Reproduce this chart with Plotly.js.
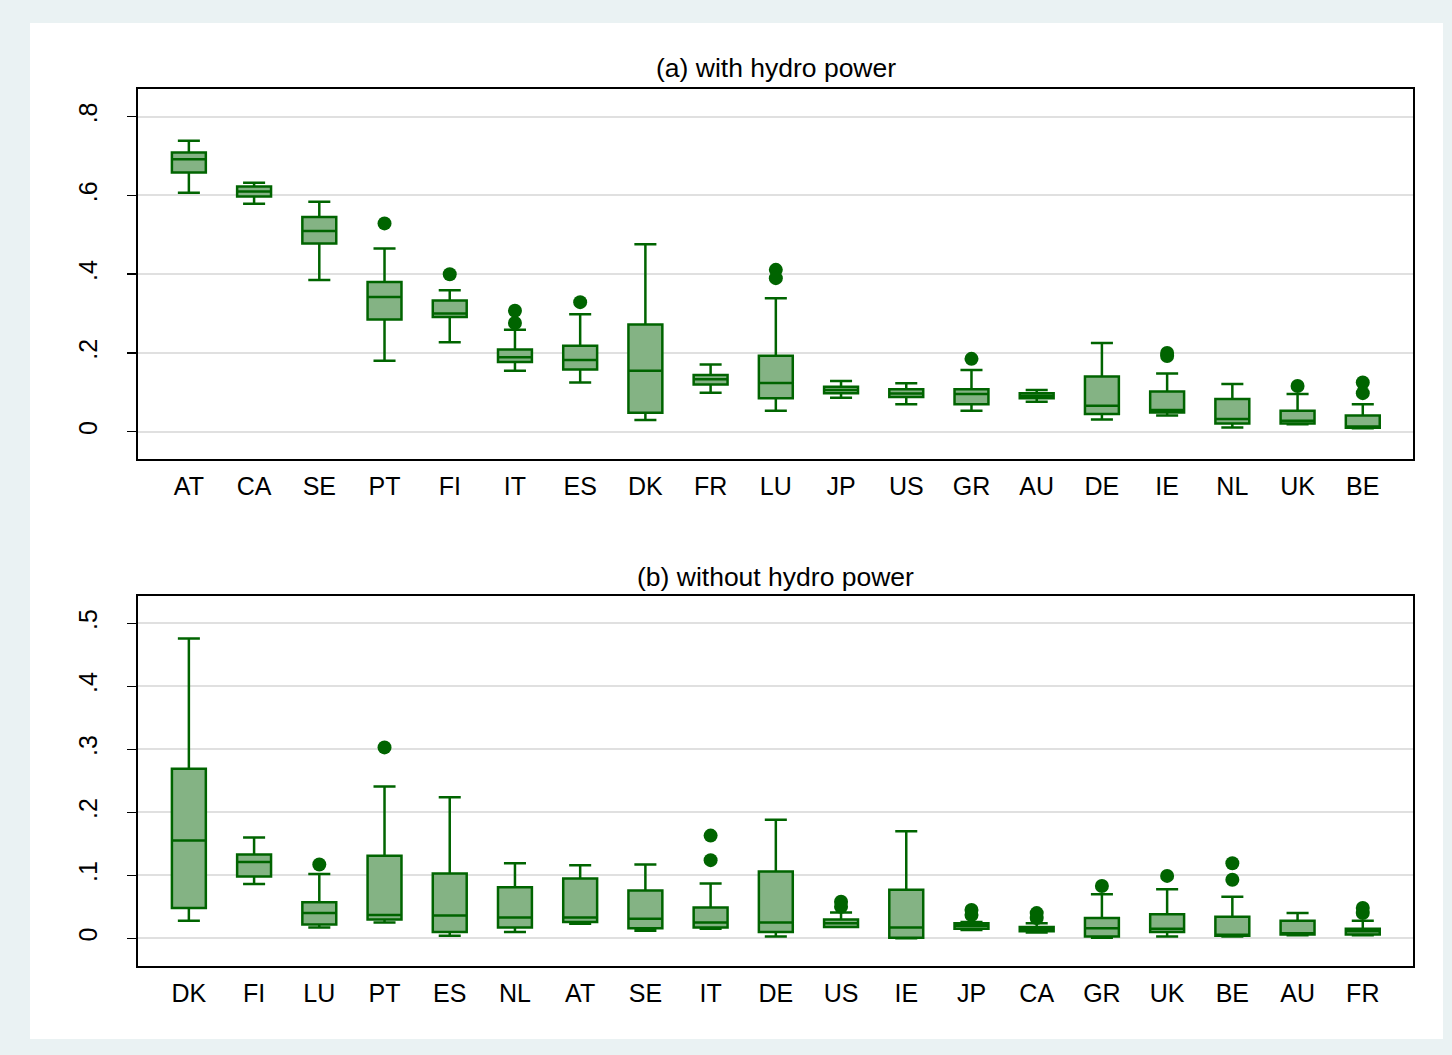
<!DOCTYPE html>
<html>
<head>
<meta charset="utf-8">
<script src="https://cdn.plot.ly/plotly-3.0.1.min.js"></script>
<style>
  html, body { margin: 0; padding: 0; background: #eaf2f3; }
  #white { position: absolute; left: 30px; top: 23px; width: 1413px; height: 1016px; background: #ffffff; }
  #chart { position: absolute; left: 0; top: 0; width: 1452px; height: 1055px; }
</style>
</head>
<body>
<div id="white"></div>
<div id="chart"></div>
<script>
// Panel (a): with hydro power
const catsA = ["AT","CA","SE","PT","FI","IT","ES","DK","FR","LU","JP","US","GR","AU","DE","IE","NL","UK","BE"];
const upperA = [0.739,0.632,0.584,0.465,0.359,0.259,0.298,0.476,0.171,0.339,0.129,0.123,0.157,0.106,0.225,0.148,0.121,0.096,0.070];
const q3A    = [0.709,0.623,0.545,0.380,0.333,0.209,0.218,0.272,0.144,0.193,0.114,0.108,0.108,0.098,0.140,0.102,0.083,0.053,0.041];
const medA   = [0.692,0.610,0.510,0.342,0.300,0.189,0.182,0.155,0.133,0.124,0.106,0.097,0.096,0.091,0.066,0.055,0.032,0.028,0.013];
const q1A    = [0.658,0.597,0.478,0.285,0.291,0.177,0.158,0.048,0.120,0.085,0.098,0.088,0.070,0.085,0.045,0.049,0.021,0.021,0.010];
const lowerA = [0.607,0.579,0.385,0.180,0.227,0.155,0.125,0.030,0.099,0.053,0.086,0.070,0.053,0.076,0.031,0.041,0.011,0.019,0.009];
const outCatsA = ["PT","FI","IT","IT","ES","LU","LU","GR","IE","IE","UK","BE","BE"];
const outValsA = [0.529,0.400,0.307,0.276,0.329,0.411,0.390,0.185,0.200,0.192,0.116,0.125,0.098];
const tickValsA = [0, 0.2, 0.4, 0.6, 0.8];
const tickTextA = ["0", ".2", ".4", ".6", ".8"];

// Panel (b): without hydro power
const catsB = ["DK","FI","LU","PT","ES","NL","AT","SE","IT","DE","US","IE","JP","CA","GR","UK","BE","AU","FR"];
const upperB = [0.476,0.160,0.102,0.241,0.224,0.119,0.116,0.117,0.087,0.188,0.041,0.170,0.026,0.024,0.070,0.078,0.066,0.040,0.028];
const q3B    = [0.269,0.133,0.057,0.131,0.103,0.081,0.095,0.076,0.049,0.106,0.030,0.077,0.024,0.018,0.032,0.038,0.034,0.028,0.015];
const medB   = [0.155,0.121,0.040,0.037,0.036,0.033,0.033,0.031,0.025,0.025,0.024,0.017,0.020,0.015,0.016,0.015,0.005,0.008,0.011];
const q1B    = [0.048,0.098,0.022,0.030,0.010,0.017,0.026,0.016,0.017,0.010,0.018,0.001,0.015,0.011,0.003,0.010,0.004,0.006,0.006];
const lowerB = [0.028,0.086,0.017,0.025,0.004,0.010,0.023,0.012,0.015,0.003,0.018,0.000,0.013,0.009,0.001,0.003,0.003,0.005,0.005];
const outCatsB = ["LU","PT","IT","IT","US","US","JP","JP","CA","CA","GR","UK","BE","BE","FR","FR"];
const outValsB = [0.117,0.303,0.163,0.124,0.058,0.050,0.045,0.037,0.040,0.032,0.083,0.099,0.119,0.093,0.048,0.040];
const tickValsB = [0, 0.1, 0.2, 0.3, 0.4, 0.5];
const tickTextB = ["0", ".1", ".2", ".3", ".4", ".5"];

const titleA = "(a) with hydro power";
const titleB = "(b) without hydro power";

const lineColor = "#006400";
const fillColor = "#84b384";
const font = "'Liberation Sans', Arial, Helvetica, sans-serif";

function boxTrace(cats, lo, q1, med, q3, up, xa, ya) {
  return {
    type: "box", x: cats, lowerfence: lo, q1: q1, median: med, q3: q3, upperfence: up,
    xaxis: xa, yaxis: ya, boxpoints: false, width: 0.52, whiskerwidth: 0.65,
    fillcolor: fillColor, line: { color: lineColor, width: 2.5 }, hoverinfo: "skip", showlegend: false
  };
}
function outTrace(cats, vals, xa, ya) {
  return {
    type: "scatter", mode: "markers", x: cats, y: vals, xaxis: xa, yaxis: ya,
    marker: { color: lineColor, size: 14 }, hoverinfo: "skip", showlegend: false
  };
}

const data = [
  boxTrace(catsA, lowerA, q1A, medA, q3A, upperA, "x", "y"),
  outTrace(outCatsA, outValsA, "x", "y"),
  boxTrace(catsB, lowerB, q1B, medB, q3B, upperB, "x2", "y2"),
  outTrace(outCatsB, outValsB, "x2", "y2")
];

const xCommon = {
  type: "category", range: [-0.78, 18.77], showgrid: false, zeroline: false,
  showline: true, mirror: true, linecolor: "#000000", linewidth: 2,
  ticks: "", ticklabelstandoff: 4, tickfont: { family: font, size: 25, color: "#000000" }, fixedrange: true
};
const yCommon = {
  showgrid: true, gridcolor: "#e0e0e0", gridwidth: 2, zeroline: false,
  showline: true, mirror: true, linecolor: "#000000", linewidth: 2,
  ticks: "outside", ticklen: 9, tickwidth: 1.5, tickcolor: "#000000",
  ticklabelstandoff: 20,
  tickangle: -90, tickfont: { family: font, size: 25, color: "#000000" }, fixedrange: true
};

const layout = {
  width: 1452, height: 1055,
  margin: { l: 138, r: 39, t: 89, b: 89 },
  paper_bgcolor: "rgba(0,0,0,0)", plot_bgcolor: "#ffffff",
  showlegend: false,
  xaxis: Object.assign({}, xCommon, { anchor: "y", categoryorder: "array", categoryarray: catsA }),
  yaxis: Object.assign({}, yCommon, { domain: [0.5781, 1], range: [-0.0693, 0.8703], tickvals: tickValsA, ticktext: tickTextA }),
  xaxis2: Object.assign({}, xCommon, { anchor: "y2", categoryorder: "array", categoryarray: catsB }),
  yaxis2: Object.assign({}, yCommon, { domain: [0, 0.4219], range: [-0.044, 0.5433], tickvals: tickValsB, ticktext: tickTextB }),
  annotations: [
    { text: titleA, xref: "paper", yref: "paper", x: 0.5, y: 1.024, xanchor: "center", yanchor: "middle", showarrow: false, font: { family: font, size: 26.5, color: "#000000" } },
    { text: titleB, xref: "paper", yref: "paper", x: 0.5, y: 0.4436, xanchor: "center", yanchor: "middle", showarrow: false, font: { family: font, size: 26.5, color: "#000000" } }
  ]
};

Plotly.newPlot("chart", data, layout, { displayModeBar: false, staticPlot: true });
</script>
</body>
</html>
